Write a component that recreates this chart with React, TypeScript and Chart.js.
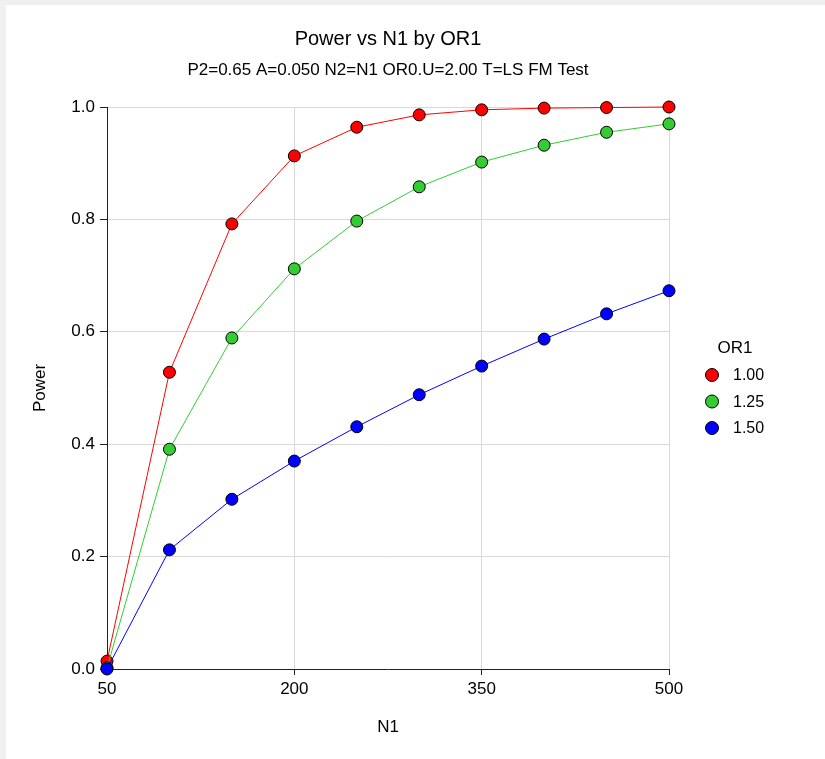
import React, { useEffect, useRef } from "react";
import { Chart, registerables } from "chart.js";

Chart.register(...registerables);

const FONT = "'Liberation Sans', Arial, sans-serif";

const TITLE = "Power vs N1 by OR1";
const SUBTITLE = "P2=0.65 A=0.050 N2=N1 OR0.U=2.00 T=LS FM Test";
const X_TITLE = "N1";
const Y_TITLE = "Power";
const LEGEND_TITLE = "OR1";

const n1Values = [50, 100, 150, 200, 250, 300, 350, 400, 450, 500];
const seriesLabels = ["1.00", "1.25", "1.50"];
const seriesColors = ["#ff0000", "#33cc33", "#0000ff"];
const power100 = [0.014, 0.528, 0.792, 0.913, 0.964, 0.986, 0.995, 0.998, 0.999, 1.0];
const power125 = [0.002, 0.391, 0.589, 0.712, 0.797, 0.858, 0.902, 0.932, 0.955, 0.97];
const power150 = [0.0, 0.212, 0.302, 0.37, 0.431, 0.488, 0.539, 0.587, 0.632, 0.673];
const seriesValues = [power100, power125, power150];

const xTicks = [50, 200, 350, 500];
const yTickStep = 0.2;

const textPlugin = {
  id: "customText",
  afterDraw(chart: any) {
    const { ctx, chartArea } = chart;
    ctx.save();
    ctx.fillStyle = "#000";
    ctx.textAlign = "center";
    ctx.textBaseline = "middle";
    const cx = (chartArea.left + chartArea.right) / 2;
    ctx.font = `20px ${FONT}`;
    ctx.fillText(TITLE, cx, 34);
    ctx.font = `17px ${FONT}`;
    ctx.fillText(SUBTITLE, cx, 65);

    const lx = chartArea.right + 43;
    ctx.font = `17px ${FONT}`;
    ctx.fillText(LEGEND_TITLE, chartArea.right + 66, 343);
    ctx.font = `16px ${FONT}`;
    seriesLabels.forEach((lab, i) => {
      const y = 370 + i * 26.5;
      ctx.beginPath();
      ctx.arc(lx, y, 6.5, 0, Math.PI * 2);
      ctx.fillStyle = seriesColors[i];
      ctx.fill();
      ctx.lineWidth = 1;
      ctx.strokeStyle = "#000";
      ctx.stroke();
      ctx.fillStyle = "#000";
      ctx.textAlign = "left";
      ctx.fillText(lab, lx + 21, y + 1);
    });
    ctx.restore();
  },
};

export default function App() {
  const canvasRef = useRef<HTMLCanvasElement | null>(null);

  useEffect(() => {
    if (!canvasRef.current) return;
    const datasets = seriesLabels.map((lab, i) => ({
      label: lab,
      data: n1Values.map((x, j) => ({ x, y: seriesValues[i][j] })),
      borderColor: seriesColors[i],
      backgroundColor: seriesColors[i],
      pointBackgroundColor: seriesColors[i],
      pointBorderColor: "#000",
      pointBorderWidth: 1,
      pointRadius: 6,
      borderWidth: 1,
      tension: 0,
      clip: false as any,
      order: seriesLabels.length - i,
    }));

    const chart = new Chart(canvasRef.current, {
      type: "line",
      data: { datasets },
      plugins: [textPlugin],
      options: {
        animation: false,
        responsive: false,
        maintainAspectRatio: false,
        layout: { padding: { left: 0, right: 156, top: 102, bottom: 0 } },
        plugins: {
          legend: { display: false },
          title: { display: false },
          tooltip: { enabled: false },
        },
        scales: {
          x: {
            type: "linear",
            min: xTicks[0],
            max: xTicks[xTicks.length - 1],
            afterBuildTicks(scale: any) {
              scale.ticks = xTicks.map((v) => ({ value: v }));
            },
            ticks: {
              font: { family: FONT, size: 17 },
              color: "#000",
              padding: 4,
              maxRotation: 0,
              autoSkip: false,
            },
            grid: { color: "#d9d9d9", tickColor: "#222", tickLength: 6, lineWidth: 1 },
            border: { color: "#222", width: 1 },
            title: {
              display: true,
              text: X_TITLE,
              font: { family: FONT, size: 17 },
              color: "#000",
              padding: { top: 0, bottom: 21 },
            },
            afterFit(scale: any) {
              scale.height = 90;
            },
          },
          y: {
            type: "linear",
            min: 0,
            max: 1,
            ticks: {
              stepSize: yTickStep,
              font: { family: FONT, size: 17 },
              color: "#000",
              padding: 5,
              callback: (v: any) => Number(v).toFixed(1),
            },
            grid: { color: "#d9d9d9", tickColor: "#222", tickLength: 7, lineWidth: 1 },
            border: { color: "#222", width: 1 },
            title: {
              display: true,
              text: Y_TITLE,
              font: { family: FONT, size: 17 },
              color: "#000",
              padding: { top: 24, bottom: 0 },
            },
            afterFit(scale: any) {
              scale.width = 101;
            },
          },
        },
      },
    });
    return () => chart.destroy();
  }, []);

  return (
    <div
      style={{
        position: "fixed",
        left: 0,
        top: 0,
        width: 825,
        height: 759,
        background: "#f0f0f0",
        paddingTop: 5,
        paddingLeft: 6,
        boxSizing: "border-box",
      }}
    >
      <canvas
        ref={canvasRef}
        width={819}
        height={754}
        style={{ display: "block", width: 819, height: 754, background: "#fff" }}
      />
    </div>
  );
}
